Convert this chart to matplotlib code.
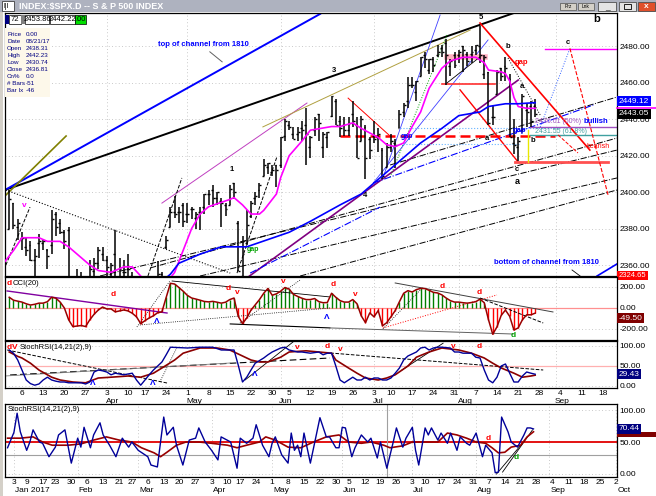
import numpy as np
import pandas as pd
import matplotlib
matplotlib.use('Agg')
import matplotlib.pyplot as plt
from matplotlib.patches import Rectangle
from matplotlib.transforms import blended_transform_factory

plt.rcParams['font.family'] = ['Liberation Sans', 'DejaVu Sans']

# trading calendar of the chart (Labor Day is kept, like on the original axis)
holidays = pd.to_datetime(['2017-01-16', '2017-02-20', '2017-04-14', '2017-05-29', '2017-07-04'])
cal = pd.bdate_range('2017-01-03', '2017-10-06')
cal = cal[~cal.isin(holidays)]
first = cal.get_loc(pd.Timestamp('2017-03-01'))  # bar 0 of the price data

# ---- S&P 500 daily bars, 1 Mar .. 25 Aug 2017 ----
opens = [2380, 2394, 2381, 2375, 2370, 2371, 2363, 2372, 2372, 2368, 2371, 2388, 2383, 2378, 2379, 2343, 2345, 2350, 2329, 2339, 2357, 2361, 2366,
         2363, 2355, 2366, 2353, 2356, 2358, 2354, 2352, 2343, 2332, 2342, 2346, 2342, 2355, 2370, 2381, 2389, 2389, 2393,
         2388, 2391, 2386, 2389, 2392, 2399, 2401, 2397, 2395, 2393, 2393, 2405, 2383, 2354, 2372, 2387, 2397, 2401, 2409, 2414, 2411, 2415,
         2415, 2431, 2437, 2432, 2432, 2435, 2437, 2425, 2434, 2443, 2425, 2430, 2442, 2450, 2439, 2437, 2434, 2443, 2437, 2428, 2436, 2429,
         2431, 2430, 2423, 2414, 2425, 2427, 2435, 2444, 2450, 2459, 2455, 2464, 2475, 2467, 2473, 2475, 2479, 2482, 2469, 2475,
         2475, 2480, 2476, 2476, 2478, 2480, 2465, 2466, 2441, 2454, 2468, 2469, 2462, 2427, 2425, 2433, 2445, 2447, 2447]
highs = [2401, 2394, 2385, 2378, 2375, 2373, 2369, 2377, 2374, 2369, 2390, 2389, 2385, 2379, 2381, 2351, 2358, 2356, 2344, 2363, 2364, 2370, 2370,
         2365, 2361, 2379, 2364, 2363, 2366, 2356, 2352, 2348, 2349, 2349, 2352, 2362, 2356, 2376, 2392, 2398, 2392, 2394,
         2394, 2392, 2389, 2392, 2399, 2401, 2404, 2400, 2397, 2394, 2404, 2405, 2384, 2376, 2390, 2395, 2400, 2405, 2418, 2416, 2415, 2415,
         2430, 2440, 2439, 2436, 2436, 2439, 2446, 2431, 2441, 2443, 2433, 2433, 2453, 2451, 2442, 2441, 2441, 2450, 2441, 2442, 2437, 2430,
         2439, 2435, 2424, 2427, 2432, 2429, 2445, 2449, 2463, 2463, 2461, 2474, 2477, 2473, 2474, 2481, 2481, 2484, 2473, 2477,
         2478, 2480, 2477, 2480, 2481, 2491, 2475, 2466, 2448, 2467, 2468, 2474, 2465, 2440, 2430, 2454, 2449, 2450, 2451]
lows = [2380, 2380, 2374, 2368, 2365, 2362, 2354, 2364, 2368, 2358, 2366, 2376, 2377, 2369, 2341, 2337, 2342, 2334, 2322, 2337, 2353, 2358, 2362,
        2344, 2350, 2349, 2349, 2348, 2354, 2337, 2343, 2328, 2332, 2337, 2335, 2340, 2345, 2369, 2381, 2386, 2383, 2381,
        2383, 2385, 2380, 2379, 2388, 2393, 2392, 2393, 2381, 2387, 2393, 2396, 2357, 2353, 2371, 2386, 2393, 2397, 2409, 2410, 2409, 2403,
        2413, 2428, 2434, 2429, 2428, 2428, 2415, 2419, 2431, 2428, 2419, 2424, 2441, 2437, 2430, 2431, 2431, 2436, 2419, 2428, 2407, 2418,
        2427, 2422, 2407, 2414, 2422, 2413, 2435, 2441, 2446, 2457, 2450, 2464, 2468, 2465, 2466, 2474, 2474, 2459, 2464, 2468,
        2471, 2466, 2469, 2471, 2475, 2471, 2462, 2437, 2437, 2454, 2461, 2461, 2430, 2421, 2417, 2433, 2436, 2436, 2441]
closes = [2396, 2382, 2383, 2375, 2368, 2363, 2365, 2373, 2373, 2365, 2385, 2381, 2378, 2373, 2344, 2348, 2345, 2344, 2342, 2358, 2361, 2368, 2363,
          2359, 2360, 2352, 2358, 2356, 2358, 2353, 2345, 2329, 2349, 2342, 2338, 2355, 2349, 2374, 2389, 2388, 2389, 2384,
          2388, 2391, 2388, 2389, 2399, 2399, 2397, 2400, 2394, 2391, 2402, 2400, 2357, 2366, 2382, 2394, 2398, 2404, 2415, 2416, 2412, 2412,
          2430, 2439, 2436, 2429, 2433, 2434, 2432, 2430, 2440, 2438, 2432, 2433, 2453, 2437, 2435, 2434, 2438, 2439, 2419, 2440, 2419, 2423,
          2429, 2432, 2409, 2425, 2428, 2426, 2443, 2448, 2459, 2459, 2461, 2474, 2473, 2473, 2470, 2477, 2477, 2475, 2472, 2470,
          2477, 2478, 2472, 2477, 2481, 2475, 2474, 2438, 2441, 2466, 2464, 2468, 2430, 2426, 2428, 2453, 2444, 2439, 2443]

# ---- indicators (day numbers count from bar 0 = 1 Mar) ----
ma_fast = [(-1, 2362), (1, 2368), (3, 2375), (7, 2375), (9, 2373), (12, 2373), (14, 2370), (16, 2366), (19, 2360),
           (21, 2357), (24, 2356), (27, 2359), (29, 2359), (31, 2354), (33, 2349), (36, 2347), (39, 2356), (41, 2368),
           (43, 2380), (45, 2388), (47, 2392), (52, 2396), (53, 2397), (55, 2393), (57, 2388), (59, 2388), (60, 2390),
           (63, 2399), (64, 2408), (66, 2420), (69, 2428), (71, 2434), (76, 2436), (78, 2436), (81, 2438), (83, 2435),
           (87, 2430), (89, 2426), (91, 2425), (93, 2427), (95, 2436), (97, 2444), (99, 2457), (102, 2468), (104, 2472),
           (107, 2474), (110, 2474), (112, 2471), (113, 2467), (116, 2466), (117, 2465), (118, 2461), (119, 2452),
           (120, 2447), (122, 2446), (124, 2446)]
ma_slow = [(37, 2353), (38, 2355), (40, 2361), (45, 2366), (50, 2370), (56, 2370), (61, 2374), (66, 2378), (71, 2384),
           (78, 2393), (83, 2399), (86, 2405), (92, 2417), (97, 2427), (102, 2435), (106, 2442), (111, 2444), (113, 2447),
           (117, 2448.5), (120, 2448.5), (124, 2449.12)]

cci = [102, 74, 65, 56, 40, 28, 35, 46, 46, 60,
       102, 93, 56, 0, -112, -177, -172, -167, -177, -112,
       -60, -19, 9, -9, -9, -37, -28, -19, -28, -50,
       -84, -149, -121, -95, -74, -45, -37, 100, 235, 228,
       195, 160, 120, 95, 85, 74, 62, 58, 63, 55,
       46, 55, 80, 95, -80, -149, -95, -20, 30, 80,
       140, 186, 121, 135, 160, 195, 180, 130, 110, 93,
       80, 80, 90, 60, 50, 52, 140, 102, 70, 56,
       56, 80, 40, -75, -140, -47, -84, -25, -170, -140,
       -84, -25, 60, 140, 165, 152, 175, 186, 185, 168,
       149, 143, 125, 95, 70, 56, 56, 50, 46, 52,
       60, 84, 50, -112, -250, -180, -70, -20, -80, -210,
       -190, -112, -65, -65, -49.5]

rsi_k = [(0, 90), (1, 82), (2, 65), (3, 40), (4, 15), (5, 6), (6, 2), (7, 5), (8, 15), (9, 22),
         (10, 15), (11, 12), (12, 10), (13, 10), (14, 8), (15, 8), (17, 8), (18, 5), (19, 10), (20, 35),
         (21, 40), (22, 38), (23, 35), (24, 28), (25, 32), (27, 28), (28, 30), (29, 32), (30, 15), (31, 2),
         (32, 15), (33, 28), (34, 40), (35, 50), (36, 60), (37, 78), (38, 97), (42, 95), (45, 97), (48, 97),
         (50, 90), (52, 90), (53, 90), (54, 52), (55, 10), (56, 22), (57, 40), (58, 57), (60, 70), (61, 78),
         (62, 85), (64, 95), (65, 97), (66, 90), (68, 85), (69, 85), (71, 82), (73, 85), (74, 78), (75, 82),
         (76, 82), (77, 50), (78, 15), (79, 8), (80, 15), (81, 22), (82, 15), (83, 15), (84, 22), (85, 15),
         (86, 20), (87, 20), (88, 15), (89, 15), (90, 20), (91, 32), (92, 45), (93, 65), (94, 75), (95, 80),
         (96, 85), (97, 95), (98, 97), (99, 90), (100, 95), (101, 97), (102, 97), (104, 95), (105, 85), (106, 85),
         (107, 82), (109, 82), (110, 72), (111, 70), (112, 40), (113, 15), (114, 8), (115, 22), (116, 50), (117, 55),
         (118, 32), (119, 10), (120, 10), (121, 25), (122, 35), (123, 32), (124, 29.43)]
rsi_d = [(0, 85), (2, 74), (3, 70), (5, 57), (7, 40), (10, 22), (12, 15), (15, 10), (18, 8), (21, 20),
         (24, 22), (28, 25), (31, 22), (34, 32), (36, 45), (39, 65), (41, 82), (45, 95), (49, 95), (52, 90),
         (54, 80), (57, 65), (59, 60), (61, 60), (64, 72), (66, 85), (70, 88), (73, 85), (76, 82), (77, 65),
         (80, 45), (82, 32), (84, 20), (87, 15), (89, 20), (91, 28), (94, 50), (96, 72), (99, 85), (102, 95),
         (106, 90), (109, 82), (112, 70), (114, 57), (116, 45), (119, 32), (121, 22), (123, 25), (124, 27)]

# bottom panel has its own, longer axis: day numbers count from 3 Jan 2017
stoch_k = [(-2, 41), (0, 65), (1, 95), (2, 66), (4, 37), (5, 50), (6, 69), (8, 50), (9, 48), (11, 27),
           (13, 42), (14, 61), (16, 69), (18, 17), (20, 56), (21, 42), (22, 73), (24, 41), (25, 61), (27, 80),
           (28, 61), (30, 45), (32, 27), (34, 56), (36, 42), (37, 50), (39, 37), (42, 27), (43, 14), (45, 11),
           (47, 89), (48, 61), (50, 73), (51, 45), (53, 14), (55, 53), (57, 56), (58, 72), (60, 50), (62, 37),
           (64, 22), (65, 58), (68, 50), (70, 9), (71, 56), (73, 48), (75, 56), (76, 77), (78, 45), (80, 27),
           (81, 48), (82, 58), (84, 30), (86, 17), (87, 64), (88, 37), (89, 45), (90, 27), (91, 64), (93, 17),
           (96, 88), (98, 58), (99, 58), (101, 41), (102, 41), (103, 73), (104, 72), (106, 27), (107, 41), (109, 61),
           (111, 50), (112, 56), (114, 25), (115, 50), (117, 9), (119, 50), (120, 72), (122, 42), (123, 56), (125, 73),
           (126, 37), (127, 14), (129, 72), (130, 61), (131, 72), (133, 53), (134, 64), (136, 48), (137, 64), (139, 37),
           (140, 58), (142, 48), (143, 45), (145, 64), (147, 27), (148, 45), (150, 33), (151, 2), (152, 3), (153, 89),
           (155, 66), (156, 50), (158, 42), (160, 61), (161, 72), (162, 72), (163, 70.44)]
stoch_d = [(-2, 56), (2, 56), (6, 58), (9, 50), (12, 45), (17, 45), (21, 47), (25, 53), (29, 58), (33, 53),
           (37, 50), (40, 41), (44, 33), (46, 27), (48, 34), (51, 45), (54, 50), (58, 50), (62, 48), (67, 45),
           (70, 41), (73, 45), (77, 50), (79, 58), (82, 53), (86, 42), (90, 41), (94, 50), (98, 58), (102, 61),
           (105, 50), (109, 48), (112, 50), (116, 45), (118, 41), (122, 44), (125, 50), (128, 50), (133, 50), (136, 64),
           (139, 61), (142, 56), (145, 50), (148, 48), (150, 41), (152, 33), (154, 34), (156, 42), (159, 45), (161, 58),
           (163, 66)]

# ---- hand-drawn trendlines: (day1, value1, day2, value2, colour, width, style) ----
price_lines = [
    (-1.0, 2401.2, 119.0, 2498.3, 'black', 1.4, '-'),
    (-1.0, 2401.2, 73.3, 2497.8, '#0000ff', 1.4, '-'),
    (-0.8, 2398.4, 13.4, 2430.8, '#808000', 1.2, '-'),
    (-0.8, 2401.2, 52.1, 2355.6, 'black', 0.8, ':'),
    (33.2, 2358.4, 143.3, 2429.7, 'black', 0.7, '-.'),
    (21.4, 2354.0, 143.3, 2423.1, 'black', 0.7, '-.'),
    (45.0, 2354.0, 143.3, 2407.8, 'black', 0.7, '-.'),
    (68.6, 2354.0, 143.3, 2401.2, 'black', 0.7, '-.'),
    (89.8, 2414.9, 143.3, 2452.2, 'black', 0.7, '-.'),
    (36.0, 2394.0, 70.2, 2448.9, '#c040c0', 0.7, '-'),
    (59.8, 2435.8, 108.7, 2489.0, '#b0a040', 0.7, '-'),
    (56.3, 2353.4, 120.0, 2461.5, '#800080', 1.2, '-'),
    (32.7, 2354.0, 40.7, 2407.8, 'black', 0.7, '--'),
    (53.7, 2355.6, 63.1, 2419.3, 'black', 0.7, '--'),
    (-0.8, 2360.0, 4.9, 2391.8, 'black', 0.7, '--'),
    (89.8, 2408.3, 103.2, 2486.2, '#00a000', 0.7, ':'),
    (88.1, 2407.8, 101.6, 2497.2, '#4040ff', 0.6, '-'),
    (85.8, 2405.0, 112.9, 2483.5, '#4040ff', 0.6, '-'),
    (56.8, 2355.6, 87.4, 2391.8, '#0000ff', 0.8, '-.'),
    (85.8, 2405.0, 137.7, 2447.8, '#0000ff', 0.8, '-.'),
    (111.0, 2492.8, 136.9, 2423.1, '#ff0000', 1.2, '-'),
    (106.3, 2456.1, 120.0, 2416.5, '#ff0000', 1.0, '-'),
    (102.1, 2459.4, 114.6, 2459.4, '#ff3030', 1.2, '-'),
    (103.2, 2474.0, 112.2, 2474.0, '#ffb0c0', 4.0, '-'),
    (92.1, 2435.2, 129.9, 2435.2, '#66b3ff', 0.8, ':'),
    (92.1, 2426.4, 120.5, 2426.4, '#66b3ff', 0.8, ':'),
    (78.0, 2430.8, 128.7, 2430.8, '#ff0000', 1.8, (0, (4, 2))),
    (119.3, 2416.5, 141.2, 2416.5, '#ff5050', 2.0, '-'),
    (122.8, 2435.8, 143.3, 2435.8, '#a050c0', 1.0, '-'),
    (122.8, 2431.4, 143.3, 2431.4, '#40a0a0', 1.0, '-'),
    (126.3, 2478.6, 143.3, 2478.6, '#ff00ff', 1.0, '-'),
    (125.2, 2435.8, 132.2, 2478.9, '#3060ff', 0.7, ':'),
    (132.2, 2478.9, 141.2, 2398.4, '#ff0000', 0.8, '--'),
    (129.4, 2431.4, 134.1, 2421.5, '#ff0000', 0.7, '--'),
    (122.3, 2434.1, 122.3, 2416.5, '#e8e800', 1.0, '-'),
    (117.6, 2473.6, 125.2, 2442.3, 'black', 0.7, ':'),
    (103.2, 2459.9, 111.0, 2474.2, 'black', 0.6, '-'),
    (79.9, 2451.6, 89.8, 2430.8, '#ff0000', 0.7, '-'),
    (47.3, 2477.0, 50.2, 2471.5, '#606060', 0.7, '-'),
    (132.7, 2357.3, 134.6, 2354.0, 'black', 0.6, '-'),
    (138.6, 2354.0, 144.0, 2361.6, '#0000ff', 1.2, '-'),
]
cci_lines = [
    (-0.5, 162, 37.2, -48, '#8000a0', 1.0, '-'),
    (30.1, -181, 37.9, 257, 'black', 0.6, ':'),
    (30.8, -162, 75.6, 0, 'black', 0.6, ':'),
    (38.4, 257, 75.6, 105, 'black', 0.6, '-'),
    (52.1, -152, 75.6, -190, 'black', 0.8, '-'),
    (54.4, -143, 68.6, 267, 'black', 0.6, ':'),
    (91.0, 238, 128.2, -38, '#404040', 0.7, '-'),
    (111.0, 95, 125.9, -143, 'black', 0.7, '--'),
    (88.1, -190, 115.0, 124, '#ff0000', 0.7, ':'),
    (88.1, -200, 96.9, 171, 'black', 0.6, ':'),
    (75.6, -190, 118.8, -248, '#606060', 0.7, '-'),
]
rsi_lines = [
    (-0.5, 90, 37.2, 7.5, 'black', 0.7, '--'),
    (0.2, 27.5, 75.6, 70, 'black', 0.8, (0, (6, 3))),
    (-1.0, 25, 52.1, 57.5, '#808080', 0.6, '-'),
    (35.5, 10, 39.6, 97.5, 'black', 0.6, ':'),
    (55.6, 15, 66.9, 110, 'black', 0.6, '-'),
    (75.7, 82.5, 125.9, 40, 'black', 0.7, '--'),
    (92.6, 40, 102.3, 107, 'black', 0.6, '-'),
]
stoch_lines = [
    (151.4, 0, 159.6, 48.4, 'black', 0.6, '-'),
    (153.3, 3, 162.7, 69, 'black', 0.6, '-'),
]

# ---- wave labels: (day, value, text, colour, size, weight) ----
price_notes = [
    (45.7, 2480.8, 'top of channel from 1810', '#0000ff', 5.5, 'bold'),
    (126.6, 2361.6, 'bottom of channel from 1810', '#0000ff', 5.5, 'bold'),
    (76.6, 2467.0, '3', 'black', 5.5, 'bold'),
    (52.5, 2412.2, '1', 'black', 5.5, 'bold'),
    (83.9, 2397.9, '4', 'black', 5.5, 'bold'),
    (111.2, 2495.6, '5', 'black', 5.5, 'bold'),
    (3.5, 2392.9, 'v', '#ff00ff', 6, 'bold'),
    (138.4, 2495.0, 'b', 'black', 8, 'bold'),
    (131.6, 2481.9, 'c', 'black', 5.5, 'bold'),
    (117.6, 2479.7, 'b', 'black', 5.5, 'bold'),
    (120.9, 2471.4, 'gap', '#ff0000', 5.5, 'bold'),
    (120.9, 2457.7, 'a', 'black', 5.5, 'bold'),
    (138.4, 2438.5, 'bullish', '#0000ff', 5.5, 'bold'),
    (138.8, 2424.8, 'bearish', '#ff0000', 5, 'normal'),
    (120.2, 2433.6, 'gap', '#0000ff', 5.5, 'bold'),
    (123.5, 2428.4, 'b', 'black', 5.5, 'bold'),
    (112.7, 2429.7, 'a', 'black', 5.5, 'bold'),
    (119.7, 2412.2, 'c', 'black', 5.5, 'bold'),
    (119.7, 2406.1, 'a', 'black', 6.5, 'bold'),
    (57.5, 2368.8, 'gap', '#00a000', 5, 'bold'),
    (93.8, 2430.8, 'gap', '#0000ff', 5, 'bold'),
]
fib_notes = [(124.0, 2438.6, '2436.01 (50%)', '#a050c0'),
             (124.0, 2433.4, '2431.55 (61.8%)', '#40a0a0')]
cci_notes = [
    (24.5, 124, 'd', '#ff0000'), (51.6, 190, 'd', '#ff0000'), (53.7, 152, 'v', '#ff0000'),
    (64.6, 250, 'v', '#ff0000'), (34.8, -133, 'Λ', '#0000ff'), (74.9, -95, 'Λ', '#0000ff'),
    (76.3, 219, 'd', '#ff0000'), (81.5, 124, 'v', '#ff0000'), (102.1, 200, 'd', '#ff0000'),
    (110.8, 143, 'd', '#ff0000'), (118.8, -262, 'd', '#00a000'),
]
rsi_notes = [
    (19.7, 6, 'Λ', '#0000ff'), (33.9, 6, 'Λ', '#0000ff'), (58.0, 30, 'Λ', '#0000ff'),
    (67.9, 97, 'v', '#ff0000'), (74.9, 99, 'd', '#ff0000'), (78.0, 92, 'v', '#ff0000'),
    (104.7, 100, 'v', '#ff0000'), (110.8, 100, 'd', '#ff0000'),
]
stoch_notes = [(148.9, 56, 'd', '#ff0000'), (157.7, 25, 'd', '#00a000')]

# ---------------------------------------------------------------------------
W, H = 656, 496
fig = plt.figure(figsize=(W / 100, H / 100), dpi=100)
fig.patch.set_facecolor('white')


def px_axes(x0, y0, x1, y1, **kw):
    return fig.add_axes([x0 / W, 1 - y1 / H, (x1 - x0) / W, (y1 - y0) / H], **kw)


def frect(x0, y0, x1, y1, **kw):
    fig.add_artist(Rectangle((x0 / W, 1 - y1 / H), (x1 - x0) / W, (y1 - y0) / H,
                             transform=fig.transFigure, **kw))


def ftext(x, y, s, **kw):
    fig.text(x / W, 1 - y / H, s, **kw)


ax = px_axes(5, 13, 617, 276)
ax_cci = px_axes(5, 277, 617, 340, sharex=ax)
ax_rsi = px_axes(5, 341, 617, 388, sharex=ax)
ax_st = px_axes(5, 404, 617, 477)

lo, hi = first - 1.0, first + 143.3
lo2, hi2 = -2.8, 189.2
ax.set_xlim(lo, hi)
ax_st.set_xlim(lo2, hi2)

pos = pd.Series(np.arange(len(cal)), index=cal)
week_starts = pos.groupby(cal.to_period('W')).min().values
month_starts = pos.groupby(cal.to_period('M')).min().values

grid_kw = dict(color='#b8b8b8', lw=0.6, ls=(0, (1, 3)))
for a in (ax, ax_cci, ax_rsi, ax_st):
    for s in a.spines.values():
        s.set_color('black')
        s.set_linewidth(0.9)
    a.yaxis.tick_right()
    a.tick_params(axis='y', length=0, pad=2, labelsize=6)
    a.tick_params(axis='x', length=0, pad=1.5, labelsize=6)
    a.set_facecolor('white')

for a in (ax, ax_cci, ax_rsi):
    for m in month_starts:
        if lo + 2 < m < hi:
            a.axvline(m, zorder=0, **grid_kw)
for m in month_starts:
    if lo2 < m < hi2:
        ax_st.axvline(m, zorder=0, **grid_kw)


def draw_lines(a, rows, off):
    for t1, v1, t2, v2, col, lw, ls in rows:
        a.plot([off + t1, off + t2], [v1, v2], color=col, lw=lw, ls=ls, zorder=2)


def pairs(rows, off):
    d, v = zip(*rows)
    return np.array(d) + off, np.array(v)


# ---- price panel ----
ax.set_ylim(2354.0, 2498.3)
pticks = [2360, 2380, 2400, 2420, 2440, 2460, 2480]
ax.set_yticks(pticks, [f'{v:.2f}' for v in pticks])
for v in pticks:
    ax.axhline(v, zorder=0, **grid_kw)
draw_lines(ax, price_lines, first)

bx = first + np.arange(len(closes))
ax.vlines(bx, lows, highs, color='black', lw=1.1, zorder=3)
ax.hlines(opens, bx - 0.45, bx, color='black', lw=1.0, zorder=3)
ax.hlines(closes, bx, bx + 0.45, color='black', lw=1.0, zorder=3)

ax.plot(*pairs(ma_fast, first), color='#ff00ff', lw=1.2, zorder=4)
ax.plot(*pairs(ma_slow, first), color='#0000ff', lw=1.2, zorder=4)

for t, v, s, col, size, wt in price_notes:
    ax.text(first + t, v, s, color=col, fontsize=size, fontweight=wt, ha='center', va='center', zorder=6)
for t, v, s, col in fib_notes:
    ax.text(first + t, v, s, color=col, fontsize=5, ha='left', va='center', zorder=6)

ax.tick_params(labelbottom=False)


def value_box(a, y, txt, fc, tc='white', size=6):
    a.text(1.003, y, txt, transform=a.get_yaxis_transform(), fontsize=size, color=tc, ha='left',
           va='center', clip_on=False, zorder=8,
           bbox=dict(boxstyle='square,pad=0.18', fc=fc, ec='none'))


ax.plot([1.0, 1.065], [2446.3, 2446.3], transform=ax.get_yaxis_transform(), color='#ff00ff',
        lw=1.2, clip_on=False, zorder=7)
value_box(ax, 2450.0, f'{ma_slow[-1][1]:.2f}', '#0000ff')
value_box(ax, 2443.05, '2443.05', 'black')
value_box(ax, 2354.3, '2324.65', '#ff0000', size=5.5)

# ---- CCI panel ----
ax_cci.set_ylim(-305, 295)
ax_cci.set_yticks([200, 0, -200], ['200.00', '0.00', '-200.00'])
for v in (200, -200):
    ax_cci.axhline(v, zorder=0, **grid_kw)
ax_cci.axhline(0, color='#ff9090', lw=0.9, zorder=1)
cx = first + np.arange(len(cci))
cci_arr = np.array(cci)
ax_cci.vlines(cx, 0, cci_arr, colors=np.where(cci_arr > 0, '#008000', '#ff0000'), lw=1.0, zorder=2)
ax_cci.plot(cx, cci_arr, color='#990000', lw=1.1, zorder=3)
draw_lines(ax_cci, cci_lines, first)
for t, v, s, col in cci_notes:
    ax_cci.text(first + t, v, s, color=col, fontsize=6, fontweight='bold', ha='center', va='center', zorder=6)
ax_cci.text(0.003, 0.9, 'd', transform=ax_cci.transAxes, fontsize=6, fontweight='bold',
            color='#ff0000', ha='left', va='center')
ax_cci.text(0.013, 0.9, 'CCI(20)', transform=ax_cci.transAxes, fontsize=5.5, ha='left', va='center')
ax_cci.tick_params(labelbottom=False)
value_box(ax_cci, -98, f'{cci[-1]:.2f}', '#800000')

# ---- RSI panel ----
ax_rsi.set_ylim(-5, 112.5)
ax_rsi.set_yticks([100, 50, 0], ['100.00', '50.00', '0.00'])
for v in (100, 0):
    ax_rsi.axhline(v, zorder=0, **grid_kw)
ax_rsi.axhline(50, color='#ffb0b0', lw=0.9, zorder=1)
draw_lines(ax_rsi, rsi_lines, first)
ax_rsi.plot(*pairs(rsi_d, first), color='#8b0000', lw=1.2, zorder=3)
ax_rsi.plot(*pairs(rsi_k, first), color='#000099', lw=1.0, zorder=4)
for t, v, s, col in rsi_notes:
    ax_rsi.text(first + t, v, s, color=col, fontsize=6, fontweight='bold', ha='center', va='center', zorder=6)
ax_rsi.text(0.002, 0.87, 'd', transform=ax_rsi.transAxes, fontsize=6, fontweight='bold', color='#ff0000',
            ha='left', va='center', zorder=7)
ax_rsi.text(0.011, 0.87, 'V', transform=ax_rsi.transAxes, fontsize=6, fontweight='bold', color='#ff0000',
            ha='left', va='center', zorder=7)
ax_rsi.text(0.024, 0.87, 'StochRSI(14,21(2),9)', transform=ax_rsi.transAxes, fontsize=5.5,
            ha='left', va='center', zorder=6)
value_box(ax_rsi, rsi_k[-1][1], f'{rsi_k[-1][1]:.2f}', '#000080')

ticks = [w for w in week_starts if lo < w < hi]
ax_rsi.set_xticks(ticks, [str(cal[w].day) for w in ticks])
tr = blended_transform_factory(ax_rsi.transData, ax_rsi.transAxes)
for m in month_starts:
    if lo + 2 < m < hi:
        ax_rsi.text(m - 0.3, -0.28, cal[m].strftime('%b'), transform=tr, fontsize=6, ha='left', va='center')

# ---- StochRSI panel (own date axis) ----
ax_st.set_ylim(-4.7, 109.4)
ax_st.set_yticks([100, 50, 0], ['100.00', '50.00', '0.00'])
for v in (100, 0):
    ax_st.axhline(v, zorder=0, **grid_kw)
ax_st.axhline(50, color='#e00000', lw=1.3, zorder=1)
ax_st.axhline(30, color='#a0a0a0', lw=0.8, zorder=1)
ax_st.axvline(117, color='#a0a0a0', lw=0.8, zorder=1)
draw_lines(ax_st, stoch_lines, 0)
ax_st.plot(*pairs(stoch_d, 0), color='#990000', lw=1.2, zorder=3)
ax_st.plot(*pairs(stoch_k, 0), color='#000099', lw=1.0, zorder=4)
for t, v, s, col in stoch_notes:
    ax_st.text(t, v, s, color=col, fontsize=6, fontweight='bold', ha='center', va='center', zorder=6)
ax_st.text(0.005, 0.92, 'StochRSI(14,21(2),9)', transform=ax_st.transAxes, fontsize=5.5, ha='left', va='center')
ax_st.add_patch(Rectangle((1.0, 58), 0.065, 8, transform=ax_st.get_yaxis_transform(), fc='#800000',
                          ec='none', clip_on=False, zorder=7))
value_box(ax_st, stoch_k[-1][1], f'{stoch_k[-1][1]:.2f}', '#000080')

ticks2 = [w for w in week_starts if lo2 < w < hi2]
ax_st.set_xticks(ticks2, [str(cal[w].day) for w in ticks2])
tr2 = blended_transform_factory(ax_st.transData, ax_st.transAxes)
for m in month_starts:
    if lo2 < m < hi2:
        lab = cal[m].strftime('%b %Y') if m == month_starts[0] else cal[m].strftime('%b')
        ax_st.text(m + 0.3, -0.19, lab, transform=tr2, fontsize=6, ha='left', va='center')

# ---- window chrome: title bar, quote boxes, data window ----
frect(0, 0, W, 12, fc='#aeb2bf', ec='none')
frect(0, 12, 3, H, fc='#d4d0c8', ec='none')
frect(2, 1, 14, 11, fc='white', ec='#404040', lw=0.6)
ftext(4, 6.5, 'l|l', fontsize=5, color='black', va='center')
ftext(19, 6.5, r'INDEX:\$SPX.D -- S & P 500 INDEX', fontsize=6.5, fontweight='bold', color='white', va='center')
for x0, x1, lab in ((560, 576, 'Prz'), (578, 594, 'Lnk')):
    frect(x0, 3, x1, 10, fc='#d4d0c8', ec='#505050', lw=0.5)
    ftext((x0 + x1) / 2, 6.5, lab, fontsize=3.5, ha='center', va='center')
frect(598, 2, 616, 11, fc='#e4e4e4', ec='#505050', lw=0.6)
ftext(607, 7.5, '_', fontsize=6, ha='center', va='center')
frect(619, 2, 636, 11, fc='#e4e4e4', ec='#505050', lw=0.6)
frect(624, 4, 631, 9, fc='none', ec='black', lw=0.6)
frect(638, 2, 655, 11, fc='#e0502c', ec='#505050', lw=0.6)
ftext(646.5, 6.5, 'x', fontsize=6, fontweight='bold', color='white', ha='center', va='center')

frect(5, 15, 9, 24, fc='#000080', ec='none')
frect(9, 15, 21, 24, fc='white', ec='black', lw=0.5)
ftext(15, 19.5, '72', fontsize=5.5, ha='center', va='center')
frect(21, 15, 25, 24, fc='#808080', ec='none')
frect(25, 15, 49, 24, fc='white', ec='black', lw=0.5)
ftext(37, 19.5, '2453.86', fontsize=5.5, ha='center', va='center')
frect(50, 15, 75, 24, fc='white', ec='black', lw=0.5)
ftext(62.5, 19.5, '2442.22', fontsize=5.5, ha='center', va='center')
frect(75, 15, 86, 24, fc='#00e000', ec='black', lw=0.5)
ftext(80.5, 19.5, '.00', fontsize=5.5, ha='center', va='center')

frect(5, 28, 50, 97, fc='#fdf8ea', ec='none')
info_labels = ['Price', 'Date', 'Open', 'High', 'Low', 'Close', 'Cn%', '# Bars', 'Bar Ix']
info_values = ['0.00', '08/21/17', '2438.31', '2442.23', '2430.74', '2436.81', '0.0', '-51', '-46']
for i, (lab, val) in enumerate(zip(info_labels, info_values)):
    yy = 34.5 + i * 7.0
    ftext(7, yy, lab, fontsize=4.5, color='#000080', va='center')
    ftext(26, yy, val, fontsize=4.5, color='#000080', va='center')

fig.savefig('out.png', dpi=100)
